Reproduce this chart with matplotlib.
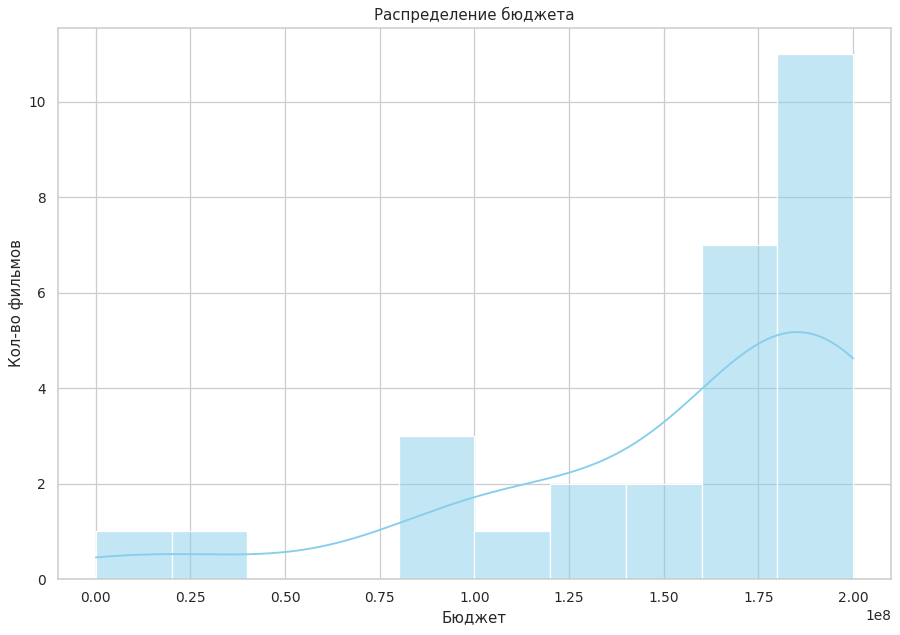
import matplotlib
matplotlib.use('Agg')
import matplotlib.pyplot as plt
import seaborn as sns
import pandas as pd

# film budgets (10 bins from 0 to 2e8)
budget_low = [0.0, 3.0e7]
budget_mid = [8.8e7, 9.4e7, 9.8e7, 1.12e8, 1.22e8, 1.28e8, 1.42e8, 1.45e8]
budget_high = [1.72e8, 1.75e8, 1.77e8, 1.78e8, 1.79e8, 1.79e8, 1.79e8,
               1.82e8, 1.88e8, 1.92e8, 1.94e8, 1.95e8, 1.96e8, 1.97e8,
               1.98e8, 1.99e8, 2.0e8, 2.0e8]

df = pd.DataFrame({'budget': budget_low + budget_mid + budget_high})

sns.set_theme(style='whitegrid')

fig, ax = plt.subplots(figsize=(10, 635 / 90), dpi=90)
sns.histplot(df['budget'], bins=10, binrange=(0, 2e8), kde=True,
             color='skyblue', ax=ax)

ax.set_title('Распределение бюджета')
ax.set_xlabel('Бюджет')
ax.set_ylabel('Кол-во фильмов')

fig.subplots_adjust(left=0.0644, right=0.99, top=0.956, bottom=0.088)
plt.savefig('out.png')
